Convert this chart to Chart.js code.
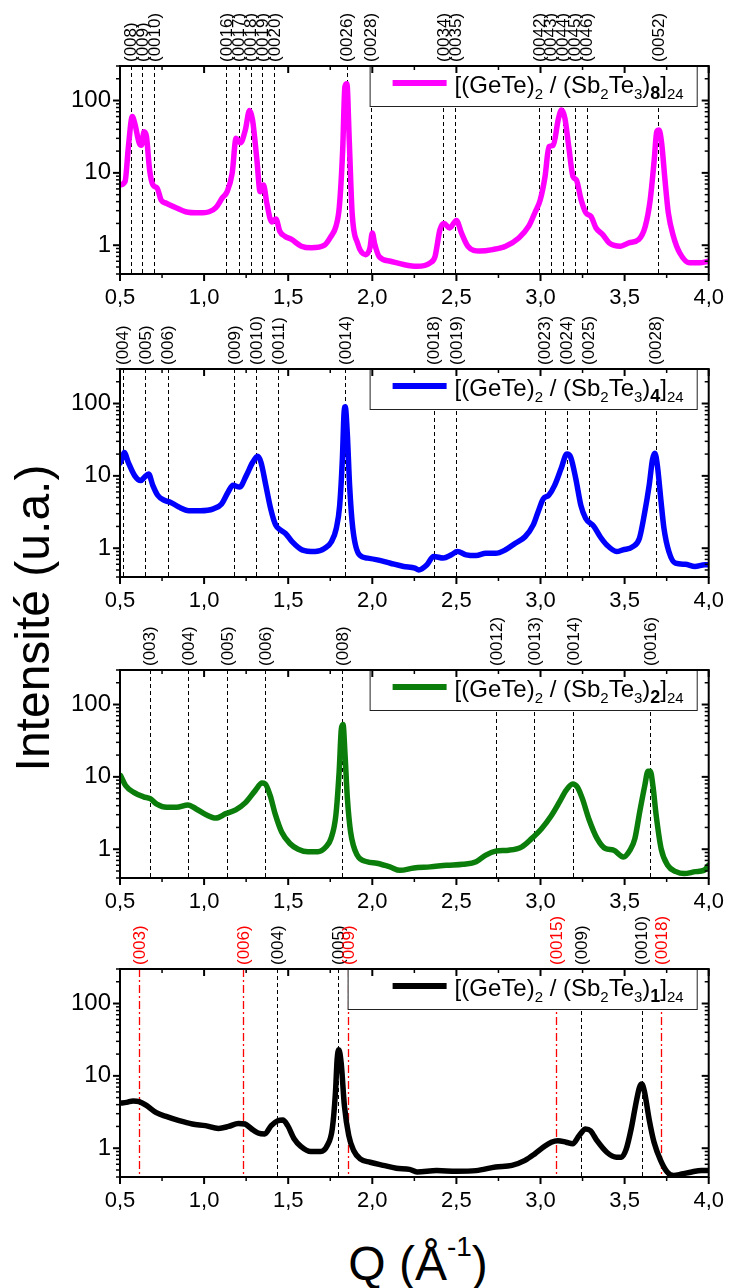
<!DOCTYPE html>
<html lang="fr">
<head>
<meta charset="UTF-8">
<title>Intensité vs Q</title>
<script src="https://cdn.jsdelivr.net/npm/chart.js@4/dist/chart.umd.min.js"></script>
<style>
  body { margin: 0; background: #fff; width: 735px; height: 1288px; position: relative; overflow: hidden;
         font-family: "Liberation Sans", Arial, sans-serif; color: #000; }
  canvas { position: absolute; left: 0; }
  #ytitle { position: absolute; left: -217px; top: 594px; width: 500px; height: 48px; line-height: 48px;
            font-size: 48px; text-align: center; transform: rotate(-90deg); white-space: nowrap; }
  #xtitle { position: absolute; left: 120px; width: 596px; top: 1240px; height: 48px; line-height: 48px;
            font-size: 48px; text-align: center; white-space: nowrap; }
  #xtitle span { position: relative; top: -24px; font-size: 28px; }
</style>
</head>
<body>
<canvas id="c1" width="735" height="310"></canvas>
<canvas id="c2" width="735" height="310"></canvas>
<canvas id="c3" width="735" height="310"></canvas>
<canvas id="c4" width="735" height="310"></canvas>
<div id="ytitle">Intensité (u.a.)</div>
<div id="xtitle">Q (Å<span>-1</span>)</div>
<script>
// --- axis ticks
const qTicks = [0.5, 1.0, 1.5, 2.0, 2.5, 3.0, 3.5, 4.0];
const qMinor = [0.75, 1.25, 1.75, 2.25, 2.75, 3.25, 3.75];
const iTicks = [1, 10, 100];
const iMinor = [0.4, 0.5, 0.6, 0.7, 0.8, 0.9, 2, 3, 4, 5, 6, 7, 8, 9, 20, 30, 40, 50, 60, 70, 80, 90, 200, 300];

// --- [(GeTe)2/(Sb2Te3)8]24
const q1 = [0.50,0.53,0.55,0.573,0.588,0.614,0.627,0.643,0.657,0.676,
            0.696,0.72,0.745,0.775,0.833,0.89,0.97,1.03,1.07,1.108,
            1.137,1.167,1.19,1.216,1.245,1.27,1.288,1.314,1.333,1.353,
            1.373,1.402,1.427,1.45,1.48,1.52,1.578,1.637,1.716,1.755,
            1.784,1.804,1.824,1.837,1.849,1.863,1.88,1.912,1.96,1.986,
            2.0,2.013,2.04,2.108,2.186,2.266,2.344,2.373,2.402,2.426,
            2.46,2.5,2.53,2.568,2.637,2.715,2.793,2.871,2.93,2.969,
            2.998,3.027,3.05,3.076,3.105,3.125,3.145,3.168,3.193,3.213,
            3.242,3.27,3.3,3.33,3.37,3.408,3.476,3.525,3.584,3.623,
            3.652,3.676,3.691,3.705,3.72,3.74,3.76,3.79,3.828,3.887,
            3.945,4.0];
const i1 = [6.8,7.6,23,60,48,26,24,37,32,11,
            6.8,6.2,4.2,3.8,3.3,2.9,2.8,2.9,3.3,4.5,
            5.5,9.9,30,26,39,73,54,15,5.5,6.8,
            3.8,2.1,2.3,1.56,1.33,1.2,0.97,0.92,1.0,1.33,
            1.83,3.4,21,155,170,28,2.8,1.07,0.74,0.92,
            1.48,1.07,0.7,0.6,0.54,0.51,0.57,0.7,1.64,2.0,
            1.73,2.2,1.48,0.97,0.83,0.87,0.97,1.26,1.83,2.9,
            4.2,8.9,23,24,54,74,57,23,8.9,8,
            4.2,2.8,2.5,1.73,1.4,1.08,0.97,1.08,1.2,1.83,
            4.2,15,37,39,26,8,2.8,1.33,0.78,0.57,
            0.57,0.6];
const refl1Pos = [0.563,0.633,0.702,1.133,1.206,1.276,1.347,1.418,1.847,1.99,2.422,2.494,2.992,3.06,3.131,3.203,3.275,3.701];
const refl1Lab = ['(008)','(009)','(0010)','(0016)','(0017)','(0018)','(0019)','(0020)','(0026)','(0028)',
                  '(0034)','(0035)','(0042)','(0043)','(0044)','(0045)','(0046)','(0052)'];

// --- [(GeTe)2/(Sb2Te3)4]24
const q2 = [0.50,0.51,0.525,0.549,0.588,0.623,0.646,0.67,0.695,0.724,
            0.763,0.802,0.85,0.909,0.977,1.055,1.104,1.143,1.172,1.211,
            1.25,1.289,1.318,1.338,1.367,1.396,1.425,1.455,1.484,1.523,
            1.582,1.66,1.718,1.757,1.786,1.806,1.822,1.832,1.839,1.851,
            1.865,1.884,1.923,1.972,2.03,2.108,2.186,2.254,2.276,2.325,
            2.364,2.422,2.47,2.506,2.558,2.617,2.675,2.733,2.792,2.85,
            2.908,2.957,2.986,3.016,3.049,3.084,3.122,3.157,3.18,3.21,
            3.24,3.268,3.317,3.355,3.394,3.453,3.49,3.549,3.588,3.617,
            3.646,3.666,3.68,3.695,3.715,3.734,3.763,3.802,3.86,3.918,
            3.977,4.0];
const i2 = [15,17,21,15.4,10,8.6,9.6,10.6,7.4,5.4,
            4.6,4.3,3.7,3.3,3.3,3.5,4.1,6.0,7.4,7.0,
            10,15.4,18.6,15.4,7.4,3.5,2.1,1.78,1.6,1.23,
            0.95,0.9,1.0,1.23,1.88,3.9,17,74,90,40,
            7.4,1.88,0.81,0.73,0.69,0.62,0.56,0.53,0.5,0.59,
            0.77,0.73,0.81,0.9,0.81,0.79,0.85,0.85,0.95,1.17,
            1.44,2.1,3.2,4.8,5.4,7.4,12.5,20,18,9.1,
            3.9,2.6,2.0,1.44,1.11,0.9,0.95,1.05,1.37,2.9,
            7.4,17,20.6,13.8,4.8,1.88,0.9,0.62,0.6,0.56,
            0.59,0.59];
const refl2Pos = [0.516,0.651,0.784,1.179,1.31,1.441,1.837,2.365,2.497,3.025,3.156,3.287,3.684];
const refl2Lab = ['(004)','(005)','(006)','(009)','(0010)','(0011)','(0014)','(0018)','(0019)','(0023)','(0024)','(0025)','(0028)'];

// --- [(GeTe)2/(Sb2Te3)2]24
const q3 = [0.504,0.533,0.582,0.64,0.68,0.719,0.777,0.836,0.904,0.953,
            1.012,1.07,1.129,1.188,1.246,1.305,1.344,1.363,1.393,1.422,
            1.461,1.51,1.559,1.617,1.676,1.725,1.754,1.783,1.803,1.816,
            1.826,1.838,1.852,1.871,1.91,1.969,2.027,2.105,2.164,2.247,
            2.344,2.442,2.539,2.617,2.675,2.733,2.811,2.889,2.947,3.006,
            3.064,3.113,3.152,3.191,3.22,3.249,3.288,3.337,3.386,3.434,
            3.493,3.532,3.561,3.59,3.62,3.639,3.653,3.668,3.688,3.717,
            3.756,3.805,3.854,3.922,3.971,4.0];
const i3 = [10.4,7.6,6.1,5.3,5.0,4.2,3.8,3.8,4.1,3.6,
            3.0,2.7,3.1,3.5,4.4,6.5,8.2,8,5.5,3.1,
            1.73,1.2,1.0,0.92,0.92,1.08,1.4,2.9,11.9,46,
            53,20,5,1.73,0.83,0.67,0.64,0.57,0.51,0.55,
            0.57,0.6,0.62,0.67,0.83,0.94,0.97,1.08,1.4,1.92,
            2.9,4.5,6.5,8,7.2,5,2.6,1.4,1.02,0.97,
            0.78,0.97,1.4,3.3,7.6,12,12,7.6,2.9,1.02,
            0.6,0.49,0.46,0.49,0.51,0.6];
const refl3Pos = [0.676,0.907,1.136,1.363,1.821,2.735,2.964,3.195,3.651];
const refl3Lab = ['(003)','(004)','(005)','(006)','(008)','(0012)','(0013)','(0014)','(0016)'];

// --- [(GeTe)2/(Sb2Te3)1]24
const q4 = [0.50,0.539,0.578,0.614,0.657,0.716,0.774,0.852,0.93,1.008,
            1.086,1.145,1.204,1.243,1.282,1.321,1.36,1.399,1.438,1.468,
            1.497,1.536,1.575,1.634,1.693,1.732,1.762,1.781,1.791,1.801,
            1.815,1.834,1.86,1.889,1.928,1.987,2.065,2.143,2.221,2.266,
            2.383,2.5,2.617,2.733,2.83,2.908,2.967,3.016,3.064,3.103,
            3.152,3.191,3.23,3.268,3.297,3.336,3.394,3.452,3.481,3.51,
            3.539,3.565,3.588,3.602,3.617,3.646,3.675,3.714,3.753,3.792,
            3.84,3.899,3.957,4.0];
const i4 = [4.2,4.3,4.5,4.4,3.9,3.1,2.75,2.4,2.16,2.05,
            1.88,2.0,2.2,2.16,1.85,1.62,1.57,2.05,2.4,2.45,
            2.05,1.34,1.06,0.9,0.9,1.09,1.85,5.9,17,23,
            15,3.9,1.5,0.93,0.71,0.64,0.58,0.53,0.51,0.47,
            0.49,0.48,0.49,0.55,0.58,0.68,0.84,1.03,1.21,1.27,
            1.21,1.15,1.5,1.85,1.75,1.27,0.88,0.75,0.75,0.98,
            1.85,3.9,6.9,7.7,6.2,2.5,1.21,0.68,0.47,0.42,
            0.44,0.47,0.49,0.49];
const refl4Pos = [0.613,1.232,1.436,1.796,1.855,3.094,3.24,3.602,3.716];
const refl4Lab = ['(003)','(006)','(004)','(005)','(009)','(0015)','(009)','(0010)','(0018)'];
const refl4Phase = ['b','b','a','a','b','b','a','a','b'];

const FAM = '"Liberation Sans", Arial, sans-serif';
Chart.defaults.font.family = FAM;
Chart.defaults.color = '#000';

const panels = [
  { id: 'c1', top: 0,   q: q1, v: i1, color: '#ff00ff', n: '8', refPos: refl1Pos, refLab: refl1Lab, refPhase: null, extra: 0 },
  { id: 'c2', top: 303, q: q2, v: i2, color: '#0000ff', n: '4', refPos: refl2Pos, refLab: refl2Lab, refPhase: null, extra: 0 },
  { id: 'c3', top: 604, q: q3, v: i3, color: '#0a7d0a', n: '2', refPos: refl3Pos, refLab: refl3Lab, refPhase: null, extra: 0 },
  { id: 'c4', top: 903, q: q4, v: i4, color: '#000000', n: '1', refPos: refl4Pos, refLab: refl4Lab, refPhase: refl4Phase, extra: 22 }
];

function drawLegend(chart, o) {
  const { ctx, chartArea: a } = chart;
  const fonts = ['24px ' + FAM, '15px ' + FAM, 'bold 18px ' + FAM];
  const shift = [0, 6, 6];
  const runs = [['[(GeTe)', 0], ['2', 1], [' / (Sb', 0], ['2', 1], ['Te', 0], ['3', 1], [')', 0], [o.n, 2], [']', 0], ['24', 1]];
  ctx.save();
  let w = 0;
  runs.forEach(r => { ctx.font = fonts[r[1]]; r[2] = ctx.measureText(r[0]).width; w += r[2]; });
  const right = a.right - 12, top = a.top, h = 40;
  const tx = right - 13 - w;
  const left = tx - 85 - o.extra;
  ctx.fillStyle = '#fff';
  ctx.fillRect(left, top, right - left, h);
  ctx.strokeStyle = '#222';
  ctx.lineWidth = 1;
  ctx.strokeRect(left + 0.5, top + 0.5, right - left, h);
  ctx.strokeStyle = o.color;
  ctx.lineWidth = 6;
  ctx.beginPath();
  ctx.moveTo(tx - 62, top + 17);
  ctx.lineTo(tx - 8, top + 17);
  ctx.stroke();
  ctx.fillStyle = '#000';
  ctx.textBaseline = 'alphabetic';
  ctx.textAlign = 'left';
  let x = tx;
  runs.forEach(r => {
    ctx.font = fonts[r[1]];
    ctx.fillText(r[0], x, top + 27 + shift[r[1]]);
    x += r[2];
  });
  ctx.restore();
}

const panelPlugin = {
  id: 'panel',
  beforeDatasetsDraw(chart, args, o) {
    const { ctx, chartArea: a, scales: { x } } = chart;
    ctx.save();
    o.refPos.forEach((q, k) => {
      const px = Math.round(x.getPixelForValue(q)) + 0.5;
      const red = o.refPhase && o.refPhase[k] === 'b';
      ctx.strokeStyle = red ? 'rgb(255,0,0)' : '#000';
      ctx.lineWidth = red ? 1.3 : 1;
      ctx.setLineDash(red ? [8, 3, 2, 3] : [4, 3]);
      ctx.beginPath();
      ctx.moveTo(px, a.top);
      ctx.lineTo(px, a.bottom);
      ctx.stroke();
    });
    ctx.restore();
  },
  afterDatasetsDraw(chart, args, o) {
    drawLegend(chart, o);
  },
  afterDraw(chart, args, o) {
    const { ctx, chartArea: a, scales: { x, y } } = chart;
    ctx.save();
    // reflection labels
    ctx.font = '17px ' + FAM;
    ctx.textAlign = 'left';
    ctx.textBaseline = 'middle';
    o.refPos.forEach((q, k) => {
      const px = x.getPixelForValue(q);
      const red = o.refPhase && o.refPhase[k] === 'b';
      ctx.fillStyle = red ? 'rgb(255,0,0)' : '#000';
      ctx.save();
      ctx.translate(px + 1, a.top - 4);
      ctx.rotate(-Math.PI / 2);
      ctx.fillText(o.refLab[k], 0, 0);
      ctx.restore();
    });
    // ticks
    ctx.strokeStyle = '#000';
    const tick = (x0, y0, x1, y1, lw) => {
      ctx.lineWidth = lw;
      ctx.beginPath(); ctx.moveTo(x0, y0); ctx.lineTo(x1, y1); ctx.stroke();
    };
    qTicks.forEach(q => {
      const p = x.getPixelForValue(q);
      tick(p, a.bottom, p, a.bottom + 7, 2);
      tick(p, a.top, p, a.top + 7, 2);
    });
    qMinor.forEach(q => {
      const p = x.getPixelForValue(q);
      tick(p, a.bottom, p, a.bottom + 4, 1.5);
      tick(p, a.top, p, a.top + 4, 1.5);
    });
    iTicks.forEach(v => {
      const p = y.getPixelForValue(v);
      tick(a.left - 7, p, a.left, p, 2);
      tick(a.right - 7, p, a.right, p, 2);
    });
    iMinor.forEach(v => {
      const p = y.getPixelForValue(v);
      tick(a.left - 4, p, a.left, p, 1.5);
      tick(a.right - 4, p, a.right, p, 1.5);
    });
    // frame
    ctx.lineWidth = 2;
    ctx.strokeRect(a.left, a.top, a.right - a.left, a.bottom - a.top);
    ctx.restore();
  }
};

panels.forEach(p => {
  const cv = document.getElementById(p.id);
  cv.style.top = p.top + 'px';
  new Chart(cv, {
    type: 'line',
    data: {
      datasets: [{
        data: p.q.map((q, k) => ({ x: q, y: p.v[k] })),
        borderColor: p.color,
        borderWidth: 5.5,
        pointRadius: 0,
        cubicInterpolationMode: 'monotone',
        borderJoinStyle: 'round',
        borderCapStyle: 'round',
        fill: false
      }]
    },
    options: {
      responsive: false,
      animation: false,
      layout: { padding: { top: 66, right: 19, left: 0, bottom: 0 } },
      plugins: {
        legend: { display: false },
        tooltip: { enabled: false },
        panel: { color: p.color, n: p.n, refPos: p.refPos, refLab: p.refLab, refPhase: p.refPhase, extra: p.extra }
      },
      scales: {
        x: {
          type: 'linear', min: 0.5, max: 4.0,
          grid: { display: false, drawTicks: false },
          border: { display: false },
          afterBuildTicks: s => { s.ticks = qTicks.map(v => ({ value: v })); },
          afterFit: s => { s.height = 36; },
          ticks: {
            font: { size: 22 }, padding: 11, maxRotation: 0, autoSkip: false,
            callback: v => v.toFixed(1).replace('.', ',')
          }
        },
        y: {
          type: 'logarithmic', min: 0.4, max: 300,
          grid: { display: false, drawTicks: false },
          border: { display: false },
          afterBuildTicks: s => { s.ticks = iTicks.map(v => ({ value: v })); },
          afterFit: s => { s.width = 120; },
          ticks: {
            font: { size: 24 }, padding: 9, autoSkip: false,
            callback: v => String(v)
          }
        }
      }
    },
    plugins: [panelPlugin]
  });
});
</script>
</body>
</html>
